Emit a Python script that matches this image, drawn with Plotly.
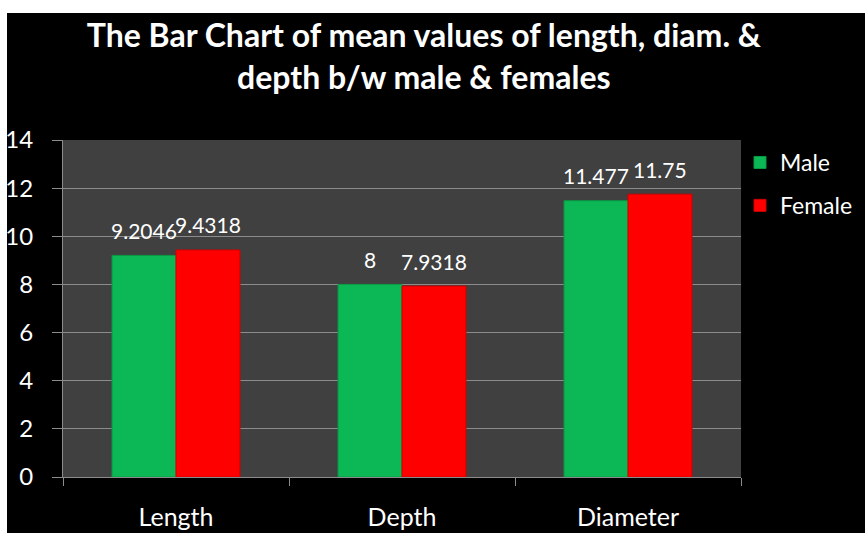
import plotly.graph_objects as go

categories = ["Length", "Depth", "Diameter"]
male_values = [9.2046, 8, 11.477]
female_values = [9.4318, 7.9318, 11.75]
series_names = ["Male", "Female"]
title_text = "The Bar Chart of mean values of length, diam. &<br>depth b/w male & females"
y_ticks = [0, 2, 4, 6, 8, 10, 12, 14]

GREEN = "#0cb855"
RED = "#ff0000"
FONT = "Lato"

fig = go.Figure()
fig.add_trace(go.Bar(x=categories, y=male_values, name=series_names[0],
                     marker=dict(color=GREEN, line=dict(color="#089a45", width=1)),
                     legendgroup="m"))
fig.add_trace(go.Bar(x=categories, y=female_values, name=series_names[1],
                     marker=dict(color=RED, line=dict(color="#d00000", width=1)),
                     legendgroup="f"))

annotations = []
for vals, shift in ((male_values, -32), (female_values, 32)):
    for c, v in zip(categories, vals):
        annotations.append(dict(x=c, y=v, text=f"{v:g}", showarrow=False,
                                xref="x", yref="y", xshift=shift, yshift=25,
                                yanchor="middle",
                                font=dict(family=FONT, size=21, color="white")))

L, R, T, B = 63, 124, 140, 56
W, H = 865, 533
pw, ph = W - L - R, H - T - B

def px_x(p):
    return (p - L) / pw

def px_y(p):
    return (H - B - p) / ph

shapes = [
    dict(type="rect", xref="paper", yref="paper", x0=px_x(-5), x1=px_x(7),
         y0=px_y(H + 5), y1=px_y(-5), fillcolor="white", line=dict(width=0), layer="above"),
    dict(type="rect", xref="paper", yref="paper", x0=px_x(-5), x1=px_x(W + 5),
         y0=px_y(13), y1=px_y(-5), fillcolor="white", line=dict(width=0), layer="above"),
]

fig.update_layout(
    width=W, height=H,
    margin=dict(l=L, r=R, t=T, b=B, autoexpand=False),
    paper_bgcolor="black",
    plot_bgcolor="#404040",
    barmode="group",
    bargap=0.434,
    bargroupgap=0,
    title=dict(text=title_text, x=0.49, xanchor="center", y=1 - 47 / H, yanchor="middle",
               font=dict(family=FONT, size=32, color="white", weight="bold")),
    legend=dict(x=px_x(740), y=px_y(141), xanchor="left", yanchor="top",
                font=dict(family=FONT, size=23, color="white"),
                bgcolor="rgba(0,0,0,0)", traceorder="grouped", tracegroupgap=10),
    xaxis=dict(showgrid=False, showline=True, linecolor="#8c8c8c", linewidth=1,
               ticks="outside", tickson="boundaries", ticklen=8, tickcolor="#8c8c8c",
               tickfont=dict(family=FONT, size=25, color="white"), ticklabelstandoff=18),
    yaxis=dict(range=[0, 14], tickvals=y_ticks, showgrid=True, gridcolor="#8c8c8c",
               gridwidth=1, showline=True, linecolor="#8c8c8c", linewidth=1,
               ticks="outside", ticklen=10, tickcolor="#8c8c8c", zeroline=False,
               tickfont=dict(family=FONT, size=24, color="white"), ticklabelstandoff=14),
    annotations=annotations,
    shapes=shapes,
    showlegend=True,
)

fig.write_html("out.html", config={"displayModeBar": False},
               post_script="document.body.style.margin='0';document.body.style.overflow='hidden';")
